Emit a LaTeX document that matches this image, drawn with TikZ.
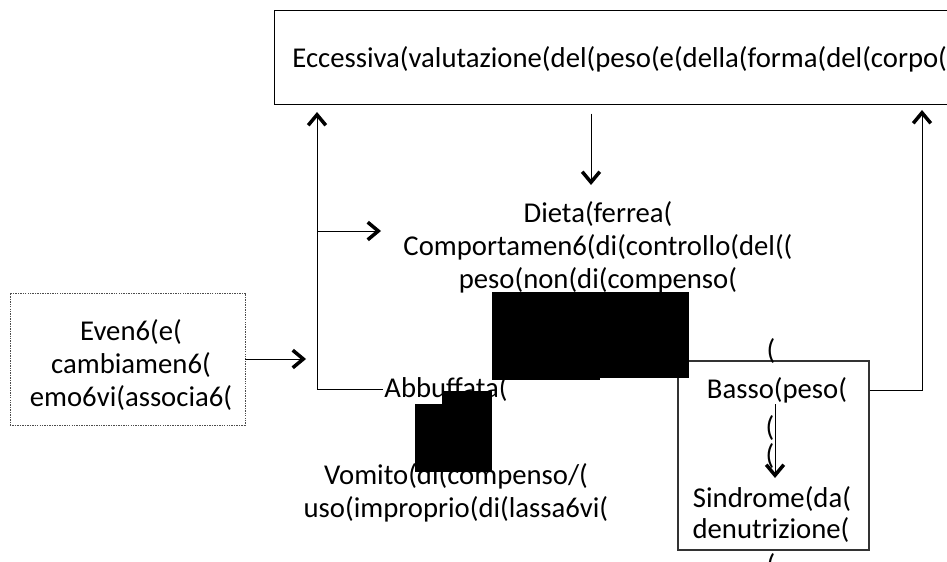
\documentclass[tikz,border=0pt]{standalone}
\usepackage{fontspec}
\setmainfont{Carlito}
\usetikzlibrary{arrows.meta,positioning}
\tikzset{txt/.style={align=center, inner sep=1pt, font=\fontsize{24.5}{28.2}\selectfont}}
\tikzset{frame/.style={draw, line width=0.9pt}}
\tikzset{dashframe/.style={draw=black!70, line width=0.5pt, dash pattern=on 1.2pt off 0.9pt}}
\tikzset{arr/.style={-{Straight Barb[length=9pt,width=15pt,line width=3pt]}, line width=0.8pt}}

\begin{document}
\begin{tikzpicture}[x=0.03cm, y=-0.03cm]
\useasboundingbox (0,0) rectangle (947,562);
% Nodes
\node (eval) [frame, line width=1.2pt, minimum width=20.43cm, minimum height=2.82cm, anchor=north west] at (274,10) {};
\node (evaltxt) [txt, anchor=west] at (291,59) {Eccessiva(valutazione(del(peso(e(della(forma(del(corpo(};

\node (diet) [txt] at (598,247) {Dieta(ferrea(\\Comportamen6(di(controllo(del((\\peso(non(di(compenso(};
\node (events) [dashframe, minimum width=7.05cm, minimum height=3.96cm] at (127.5,359) {};
\node (evtxt) [txt] at (131,365) {Even6(e(\\cambiamen6(\\emo6vi(associa6(};
\node (abb) [txt, anchor=west] at (383,389) {Abbuffata(};
\node (vomit) [txt] at (456,493) {Vomito(di(compenso/(\\uso(improprio(di(lassa6vi(};

\node (basso) [frame, draw=black!80, minimum width=5.73cm, minimum height=5.67cm] at (773.5,455.5) {};
\node (pa) [txt] at (771,351) {(};
\node (bassotxt) [txt] at (777,390) {Basso(peso(};
\node (pb) [txt] at (770,428) {(};
\node (pc) [txt] at (770,456) {(};
\node (sind) [txt] at (772,499) {Sindrome(da(};
\node (denut) [txt] at (771,530) {denutrizione(};
\node (pd) [txt] at (771,566) {(};

\coordinate (ltip) at (317,112);
\coordinate (rtip) at (922,110);
\coordinate (dtip) at (591,185);
\coordinate (branch) at (317,231);
\coordinate (dietin) at (381,231);
\coordinate (evin) at (306,359);
\coordinate (bdown) at (775,478);

% Connectors
\draw [arr, shorten <=7pt] (eval.south -| dtip) -- (dtip);
\draw [arr] (abb.west) -| (ltip);
\draw [arr] (branch) -- (dietin);
\draw [arr] (events.east |- evin) -- (evin);
\draw [arr] (bassotxt -| basso.east) -| (rtip);
\draw [arr] (bdown |- bassotxt.south) -- (bdown);

% covered parts
\fill (492,292) rectangle (689,378);
\fill (492,378) rectangle (600,380);
\fill (442,391) rectangle (492,472);
\fill (415,404) rectangle (442,472);
\end{tikzpicture}
\end{document}
